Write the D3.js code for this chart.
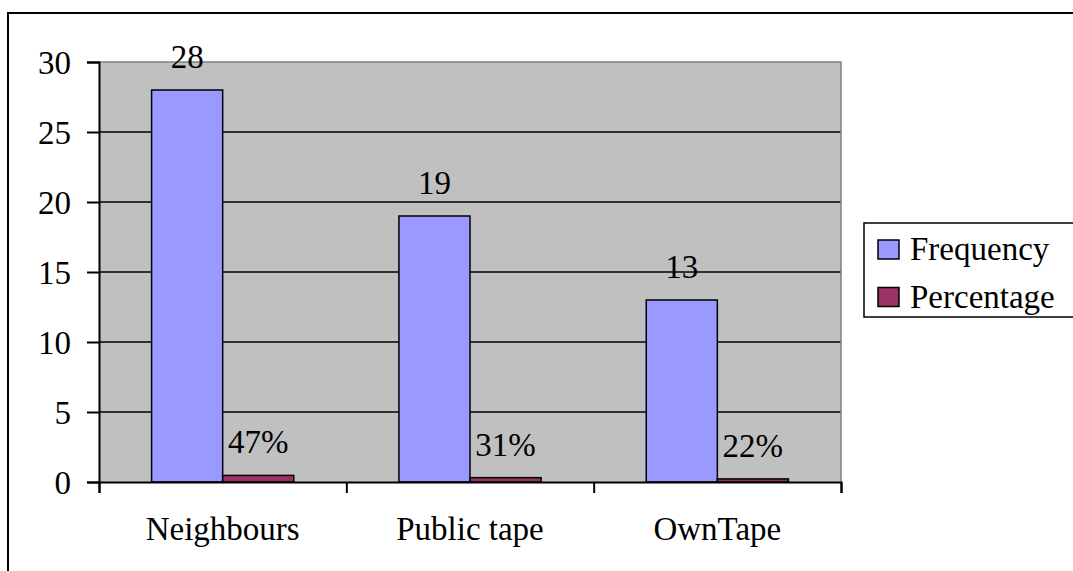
<!DOCTYPE html>
<html>
<head>
<meta charset="utf-8">
<script src="https://cdn.jsdelivr.net/npm/d3@7"></script>
<style>
  html, body { margin: 0; padding: 0; background: #fff; }
  svg { display: block; }
  svg text { font-family: "Liberation Serif", "Times New Roman", serif !important; fill: #000; }
</style>
</head>
<body>
<svg id="chart" width="1073" height="571" font-family="Liberation Serif, serif"></svg>
<script>
// Data
const categories = ["Neighbours", "Public tape", "OwnTape"];
const seriesNames = ["Frequency", "Percentage"];
const frequency = [28, 19, 13];
const percentage = [0.47, 0.31, 0.22];
const yTicks = [0, 5, 10, 15, 20, 25, 30];

const colors = { Frequency: "#9999FF", Percentage: "#993366" };
const fmt = {
  Frequency: d3.format("d"),
  Percentage: d3.format(".0%")
};

const svg = d3.select("#chart");
const fontSize = 33;
const serif = "'Liberation Serif', 'Times New Roman', serif";

// Outer chart frame (extends past the visible window on the right and bottom)
svg.append("rect")
  .attr("x", 8).attr("y", 13)
  .attr("width", 1200).attr("height", 700)
  .attr("fill", "#fff")
  .attr("stroke", "#000").attr("stroke-width", 2);

const plot = { left: 99, right: 841, top: 62, bottom: 482 };

const y = d3.scaleLinear().domain([0, 30]).range([plot.bottom, plot.top]);
const x = d3.scaleBand().domain(categories).range([plot.left, plot.right]).padding(0);
const xs = d3.scaleBand().domain(seriesNames).range([0, x.bandwidth()])
  .paddingInner(0).paddingOuter(0.74);

// Plot area background
svg.append("rect")
  .attr("x", plot.left).attr("y", plot.top)
  .attr("width", plot.right - plot.left).attr("height", plot.bottom - plot.top)
  .attr("fill", "#C0C0C0");

// Horizontal gridlines
svg.append("g")
  .selectAll("line")
  .data(yTicks.filter(t => t > 0 && t < 30))
  .join("line")
  .attr("x1", plot.left).attr("x2", plot.right)
  .attr("y1", d => y(d)).attr("y2", d => y(d))
  .attr("stroke", "#000").attr("stroke-width", 1.5);

// Plot area border (top and right, grey)
svg.append("path")
  .attr("d", `M${plot.left},${y(30)}H${plot.right}V${plot.bottom}`)
  .attr("fill", "none")
  .attr("stroke", "#808080").attr("stroke-width", 1.5);

// Bars
const rows = categories.map((c, i) => ({
  category: c,
  values: [
    { series: "Frequency", value: frequency[i] },
    { series: "Percentage", value: percentage[i] }
  ]
}));

const groups = svg.append("g").selectAll("g")
  .data(rows)
  .join("g")
  .attr("transform", d => `translate(${x(d.category)},0)`);

groups.selectAll("rect")
  .data(d => d.values)
  .join("rect")
  .attr("x", d => xs(d.series))
  .attr("y", d => y(d.value))
  .attr("width", xs.bandwidth())
  .attr("height", d => y(0) - y(d.value))
  .attr("fill", d => colors[d.series])
  .attr("stroke", "#000").attr("stroke-width", 1.5);

// Value labels
groups.selectAll("text")
  .data(d => d.values)
  .join("text")
  .attr("x", d => xs(d.series) + xs.bandwidth() / 2)
  .attr("y", d => y(d.value) - 22)
  .attr("text-anchor", "middle")
  .style("font-family", serif)
  .style("font-size", fontSize + "px")
  .text(d => fmt[d.series](d.value));

// Y axis
const yAxis = svg.append("g")
  .attr("transform", `translate(${plot.left},0)`)
  .call(d3.axisLeft(y).tickValues(yTicks).tickSize(12).tickPadding(16).tickFormat(d3.format("d")));
yAxis.attr("font-family", null).attr("font-size", null);
yAxis.select(".domain").attr("stroke", "#000").attr("stroke-width", 2);
yAxis.selectAll(".tick line").attr("stroke", "#000").attr("stroke-width", 2);
yAxis.selectAll(".tick text")
  .style("font-family", serif)
  .style("font-size", fontSize + "px")
  .attr("dy", "0.34em");

// X axis: ticks at category boundaries
const xb = d3.scaleLinear().domain([0, categories.length]).range([plot.left, plot.right]);
const xAxisTicks = svg.append("g")
  .attr("transform", `translate(0,${plot.bottom})`)
  .call(d3.axisBottom(xb).tickValues(d3.range(categories.length + 1)).tickSize(11).tickFormat(""));
xAxisTicks.select(".domain").attr("stroke", "#000").attr("stroke-width", 2);
xAxisTicks.selectAll(".tick line").attr("stroke", "#000").attr("stroke-width", 2);

// X axis: category labels
const xAxisLabels = svg.append("g")
  .attr("transform", `translate(0,${plot.bottom})`)
  .call(d3.axisBottom(x).tickSize(0).tickPadding(35));
xAxisLabels.attr("font-family", null).attr("font-size", null);
xAxisLabels.select(".domain").remove();
xAxisLabels.selectAll(".tick text")
  .style("font-family", serif)
  .style("font-size", fontSize + "px");

// Legend
const legend = svg.append("g");
legend.append("rect")
  .attr("x", 864).attr("y", 223)
  .attr("width", 400).attr("height", 94)
  .attr("fill", "#fff")
  .attr("stroke", "#000").attr("stroke-width", 1.5);

const legendRow = d3.scalePoint().domain(seriesNames).range([249.5, 297]);
const items = legend.selectAll("g.item")
  .data(seriesNames)
  .join("g")
  .attr("class", "item")
  .attr("transform", d => `translate(878,${legendRow(d)})`);
items.append("rect")
  .attr("x", 0).attr("y", -9.5)
  .attr("width", 21).attr("height", 19)
  .attr("fill", d => colors[d])
  .attr("stroke", "#000").attr("stroke-width", 1.5);
items.append("text")
  .attr("x", 32).attr("y", 10.5)
  .style("font-family", serif)
  .style("font-size", fontSize + "px")
  .text(d => d);
</script>
</body>
</html>
